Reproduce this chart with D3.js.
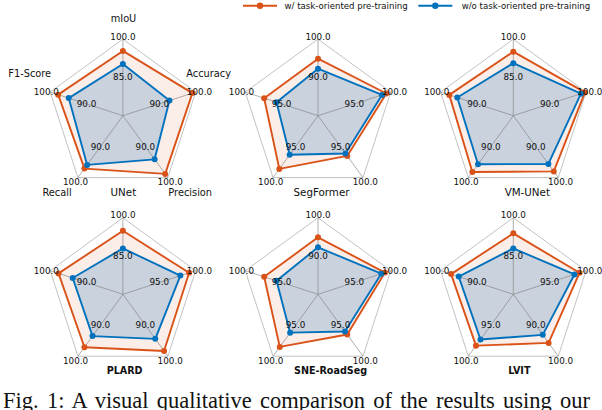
<!DOCTYPE html>
<html><head><meta charset="utf-8">
<script src="https://cdn.jsdelivr.net/npm/d3@7"></script>
<style>
html,body{margin:0;padding:0;background:#fff;}
svg{display:block;}
</style></head>
<body>
<svg id="c" width="602" height="410"></svg>
<script>
// ---------------- data ----------------
const models = ["UNet", "SegFormer", "VM-UNet", "PLARD", "SNE-RoadSeg", "LVIT"];
const metrics = ["mIoU", "Accuracy", "Precision", "Recall", "F1-Score"];
const seriesNames = ["w/ task-oriented pre-training", "w/o task-oriented pre-training"];
// per-model, per-metric lower bound of the radial axis (upper bound 100)
const axisMin = [
  [70, 80, 80, 80, 80],
  [80, 90, 90, 90, 90],
  [70, 80, 80, 80, 80],
  [70, 90, 80, 80, 80],
  [80, 90, 90, 90, 90],
  [70, 90, 80, 90, 80]
];
const axisMax = 100;
const withPretrain = [
  [95.4, 99.1, 98.8, 97.1, 97.8],
  [94.9, 99.4, 96.5, 98.6, 97.4],
  [95.1, 99.7, 98.0, 98.2, 97.6],
  [94.9, 99.1, 98.3, 97.1, 97.7],
  [94.9, 99.2, 96.5, 98.5, 97.4],
  [93.9, 99.1, 95.7, 98.3, 97.1]
];
const withoutPretrain = [
  [90.3, 92.8, 94.1, 95.9, 94.9],
  [92.3, 98.8, 96.1, 96.3, 95.7],
  [90.6, 98.6, 95.6, 95.7, 95.4],
  [88.0, 97.9, 94.4, 93.5, 93.8],
  [92.3, 98.7, 96.0, 96.2, 95.7],
  [88.0, 98.4, 93.1, 97.3, 95.0]
];
const caption = "Fig. 1: A visual qualitative comparison of the results using our";

// ---------------- layout ----------------
const colors = ["#D95319", "#0072BD"];
const fills = ["rgba(217,83,25,0.10)", "rgba(45,125,190,0.24)"];
const colX = [122.9, 318.0, 513.3];
const rowY = [115.7, 294.3];
const R = 76.5;
const titleDx = [0.5, 3.5, 14, 1.7, 12.5, 6];
const titleBold = [false, false, false, true, true, true];
const labelOff = [[0.6, -97.4], [85.8, -42.4], [67.3, 76.6], [-65.9, 76.6], [-93.2, -42.4]];

const svg = d3.select("#c");
const font = "'DejaVu Sans', sans-serif";
const fmt = d3.format(".1f");
const ang = i => (-90 + i * 72) * Math.PI / 180;
const dir = i => [Math.cos(ang(i)), Math.sin(ang(i))];

models.forEach((m, k) => {
  const cx = colX[k % 3], cy = rowY[Math.floor(k / 3)];
  const g = svg.append("g").attr("transform", `translate(${cx},${cy})`);
  const scales = metrics.map((_, i) => d3.scaleLinear().domain([axisMin[k][i], axisMax]).range([0, R]));
  const pt = (v, i) => { const r = scales[i](v), d = dir(i); return [r * d[0], r * d[1]]; };
  const line = d3.line().curve(d3.curveLinearClosed);

  // outer frame
  g.append("path").attr("d", line(metrics.map((_, i) => pt(axisMax, i))))
    .attr("fill", "none").attr("stroke", "#b3b3b3").attr("stroke-width", 0.8);

  const series = [withPretrain[k], withoutPretrain[k]];
  // fills
  series.forEach((s, j) => {
    g.append("path").attr("d", line(s.map((v, i) => pt(v, i)))).attr("fill", fills[j]).attr("stroke", "none");
  });
  // spokes
  metrics.forEach((_, i) => {
    const p = pt(axisMax, i);
    g.append("line").attr("x1", 0).attr("y1", 0).attr("x2", p[0]).attr("y2", p[1])
      .attr("stroke", "#7f7f7f").attr("stroke-opacity", 0.7).attr("stroke-width", 0.9);
  });
  // lines + markers
  series.forEach((s, j) => {
    const pts = s.map((v, i) => pt(v, i));
    g.append("path").attr("d", line(pts)).attr("fill", "none")
      .attr("stroke", colors[j]).attr("stroke-width", 1.9).attr("stroke-linejoin", "round");
    g.selectAll(null).data(pts).enter().append("circle")
      .attr("cx", d => d[0]).attr("cy", d => d[1]).attr("r", 3).attr("fill", colors[j]);
  });
  // tick labels
  metrics.forEach((_, i) => {
    const lo = axisMin[k][i];
    const ticks = [(lo + axisMax) / 2, axisMax];
    ticks.forEach((t, ti) => {
      const p = pt(t, i), d = dir(i);
      const off = ti === 1 ? 4 : 0;
      g.append("text").attr("x", p[0] + d[0] * off).attr("y", p[1] + d[1] * off + (ti === 1 ? 1.5 : 0))
        .attr("text-anchor", "middle").attr("dominant-baseline", "central")
        .attr("font-family", font).attr("font-size", 8.8).attr("fill", "#111")
        .text(fmt(t));
    });
  });
  // metric names on first chart
  if (k === 0) {
    metrics.forEach((name, i) => {
      g.append("text").attr("x", labelOff[i][0]).attr("y", labelOff[i][1])
        .attr("text-anchor", "middle").attr("dominant-baseline", "central")
        .attr("font-family", font).attr("font-size", 9.8).attr("fill", "#111").text(name);
    });
  }
  // title
  g.append("text").attr("x", titleDx[k]).attr("y", 80)
    .attr("text-anchor", "middle").attr("font-family", font)
    .attr("font-size", titleBold[k] ? 9.6 : 10.3).attr("font-weight", titleBold[k] ? "bold" : "normal")
    .attr("fill", "#111").text(m);
});

// legend
const leg = [[243, 284.5], [418.3, 461.7]];
seriesNames.forEach((n, j) => {
  const x0 = leg[j][0];
  svg.append("line").attr("x1", x0).attr("x2", x0 + 34).attr("y1", 5.7).attr("y2", 5.7)
    .attr("stroke", colors[j]).attr("stroke-width", 1.9);
  svg.append("circle").attr("cx", x0 + 17).attr("cy", 5.7).attr("r", 3.2).attr("fill", colors[j]);
  svg.append("text").attr("x", leg[j][1]).attr("y", 5.7).attr("dominant-baseline", "central")
    .attr("font-family", font).attr("font-size", 8.6).attr("fill", "#111").text(n);
});

// caption (justified via word spacing)
const cap = svg.append("text").attr("x", 3).attr("y", 408)
  .attr("font-family", "'Liberation Serif', 'Times New Roman', serif").attr("font-size", 22.5)
  .attr("fill", "#111").text(caption);
const natural = cap.node().getComputedTextLength();
const nSpaces = caption.split(" ").length - 1;
const ws = Math.max(0, (587 - natural) / nSpaces);
cap.attr("word-spacing", ws);
</script>
</body></html>
